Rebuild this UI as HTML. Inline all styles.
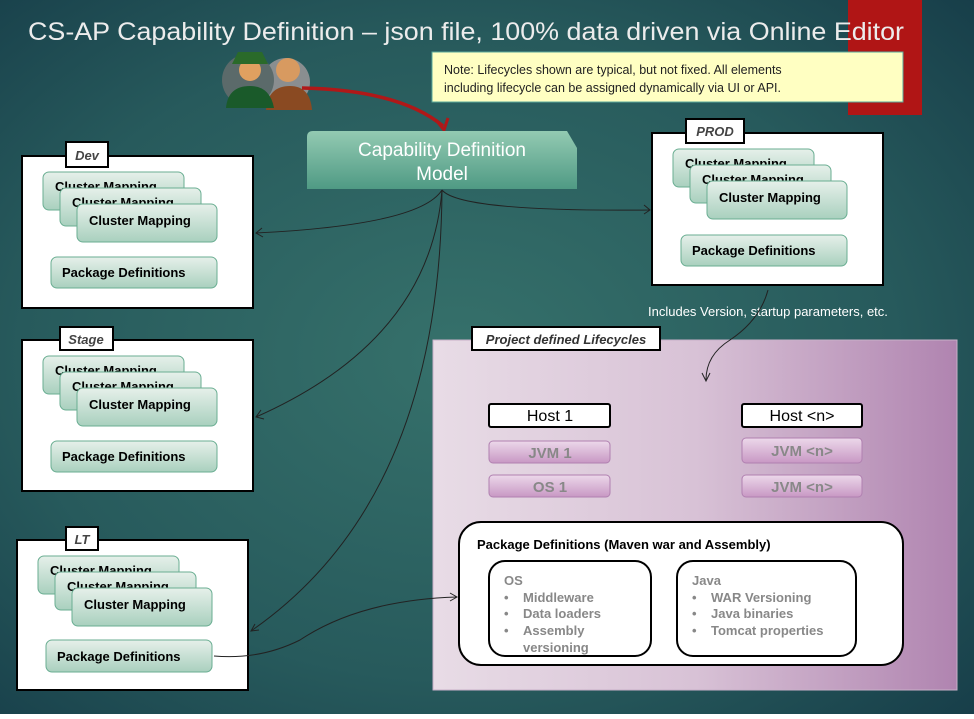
<!DOCTYPE html>
<html><head><meta charset="utf-8"><style>
html,body{margin:0;padding:0}
body{width:974px;height:714px;overflow:hidden;font-family:"Liberation Sans",sans-serif}
</style></head><body>
<svg width="974" height="714" viewBox="0 0 974 714" xmlns="http://www.w3.org/2000/svg" font-family="Liberation Sans, sans-serif">
<defs>
<radialGradient id="bg" cx="0.47" cy="0.5" r="0.75">
<stop offset="0" stop-color="#36716b"/><stop offset="0.6" stop-color="#275a5c"/><stop offset="1" stop-color="#163c48"/>
</radialGradient>
<linearGradient id="card" x1="0" y1="0" x2="0" y2="1"><stop offset="0" stop-color="#e6f0ea"/><stop offset="1" stop-color="#a9d0be"/></linearGradient>
<linearGradient id="model" x1="0" y1="0" x2="0" y2="1"><stop offset="0" stop-color="#93cab2"/><stop offset="1" stop-color="#4f9a84"/></linearGradient>
<linearGradient id="purp" x1="0" y1="0" x2="1" y2="0"><stop offset="0" stop-color="#e8dce6"/><stop offset="0.5" stop-color="#d8c2d6"/><stop offset="1" stop-color="#b084b0"/></linearGradient>
<linearGradient id="pbtn" x1="0" y1="0" x2="0" y2="1"><stop offset="0" stop-color="#ecd8ea"/><stop offset="1" stop-color="#c898c4"/></linearGradient>
<g id="stack">
<rect x="0" y="0" width="141" height="38" rx="6" fill="url(#card)" stroke="#6aae92"/>
<text x="12" y="19" font-size="13" font-weight="bold">Cluster Mapping</text>
<rect x="17" y="16" width="141" height="38" rx="6" fill="url(#card)" stroke="#6aae92"/>
<text x="29" y="35" font-size="13" font-weight="bold">Cluster Mapping</text>
<rect x="34" y="32" width="140" height="38" rx="6" fill="url(#card)" stroke="#6aae92"/>
<text x="46" y="53" font-size="13" font-weight="bold">Cluster Mapping</text>
</g>
</defs>
<rect width="974" height="714" fill="url(#bg)"/>
<rect x="848" y="0" width="74" height="115" fill="#b01515"/>
<text x="28" y="40" font-size="25" fill="#ececec" textLength="876" lengthAdjust="spacingAndGlyphs">CS-AP Capability Definition – json file, 100% data driven via Online Editor</text>
<rect x="432" y="52" width="471" height="50" fill="#ffffc2" stroke="#5aa89a"/>
<text x="444" y="74" font-size="12.5" fill="#222">Note: Lifecycles shown are typical, but not fixed. All elements</text>
<text x="444" y="92" font-size="12.5" fill="#222">including lifecycle can be assigned dynamically via UI or API.</text>
<!-- people icon -->
<circle cx="286" cy="82" r="24" fill="#8a8e90"/>
<circle cx="288" cy="70" r="12" fill="#d89a60"/>
<path d="M266 110 Q268 86 290 86 Q310 86 312 110 Z" fill="#8a4a22"/>
<circle cx="248" cy="80" r="26" fill="#5b6a6a"/>
<circle cx="250" cy="70" r="11" fill="#e0a060"/>
<path d="M232 64 L268 64 L262 52 L238 52 Z" fill="#2a6a2a"/>
<path d="M226 108 Q228 86 250 86 Q270 86 274 108 Z" fill="#1a5a2a"/>
<path d="M302 88 Q400 90 443 126" stroke="#b01818" stroke-width="3.5" fill="none"/>
<path d="M436 120 L444 130 L448 118" stroke="#b01818" stroke-width="3" fill="none"/>
<!-- model -->
<path d="M313 131 L567 131 L577 148 L577 189 L307 189 L307 137 Q307 131 313 131 Z" fill="url(#model)"/>
<text x="442" y="156" font-size="19" fill="#fff" text-anchor="middle">Capability Definition</text>
<text x="442" y="180" font-size="19" fill="#fff" text-anchor="middle">Model</text>
<!-- connectors -->
<g stroke="#222" stroke-width="1" fill="none">
<path d="M442 190 Q420 225 256 233"/><path d="M262 228 L256 233 L263 237"/>
<path d="M442 190 Q430 340 256 417"/><path d="M261 410 L256 417 L264 419"/>
<path d="M442 190 Q440 500 251 631"/><path d="M255 624 L251 631 L259 630"/>
<path d="M442 190 Q460 212 650 210"/><path d="M644 205 L650 210 L644 214"/>
</g>
<!-- Dev -->
<rect x="22" y="156" width="231" height="152" fill="#fff" stroke="#000" stroke-width="2"/>
<rect x="66" y="142" width="42" height="25" fill="#fff" stroke="#000" stroke-width="2"/>
<text x="87" y="160" font-size="13" font-weight="bold" font-style="italic" fill="#444" text-anchor="middle">Dev</text>
<use href="#stack" x="43" y="172"/>
<rect x="51" y="257" width="166" height="31" rx="6" fill="url(#card)" stroke="#6aae92"/>
<text x="62" y="277" font-size="13" font-weight="bold">Package Definitions</text>
<!-- Stage -->
<rect x="22" y="340" width="231" height="151" fill="#fff" stroke="#000" stroke-width="2"/>
<rect x="60" y="327" width="53" height="23" fill="#fff" stroke="#000" stroke-width="2"/>
<text x="86" y="344" font-size="13" font-weight="bold" font-style="italic" fill="#444" text-anchor="middle">Stage</text>
<use href="#stack" x="43" y="356"/>
<rect x="51" y="441" width="166" height="31" rx="6" fill="url(#card)" stroke="#6aae92"/>
<text x="62" y="461" font-size="13" font-weight="bold">Package Definitions</text>
<!-- LT -->
<rect x="17" y="540" width="231" height="150" fill="#fff" stroke="#000" stroke-width="2"/>
<rect x="66" y="527" width="32" height="23" fill="#fff" stroke="#000" stroke-width="2"/>
<text x="82" y="544" font-size="13" font-weight="bold" font-style="italic" fill="#444" text-anchor="middle">LT</text>
<use href="#stack" x="38" y="556"/>
<rect x="46" y="640" width="166" height="32" rx="6" fill="url(#card)" stroke="#6aae92"/>
<text x="57" y="661" font-size="13" font-weight="bold">Package Definitions</text>
<!-- PROD -->
<rect x="652" y="133" width="231" height="152" fill="#fff" stroke="#000" stroke-width="2"/>
<rect x="686" y="119" width="58" height="24" fill="#fff" stroke="#000" stroke-width="2"/>
<text x="715" y="136" font-size="13" font-weight="bold" font-style="italic" fill="#444" text-anchor="middle">PROD</text>
<use href="#stack" x="673" y="149"/>
<rect x="681" y="235" width="166" height="31" rx="6" fill="url(#card)" stroke="#6aae92"/>
<text x="692" y="255" font-size="13" font-weight="bold">Package Definitions</text>
<text x="648" y="316" font-size="13" fill="#fff">Includes Version, startup parameters, etc.</text>
<!-- purple -->
<rect x="433" y="340" width="524" height="350" fill="url(#purp)" stroke="#c8b0c8"/>
<rect x="472" y="327" width="188" height="23" fill="#fff" stroke="#000" stroke-width="2"/>
<text x="566" y="344" font-size="13" font-weight="bold" font-style="italic" fill="#333" text-anchor="middle">Project defined Lifecycles</text>
<rect x="489" y="404" width="121" height="23" rx="2" fill="#fff" stroke="#000" stroke-width="2"/>
<text x="550" y="421" font-size="16" text-anchor="middle">Host 1</text>
<rect x="742" y="404" width="120" height="23" rx="2" fill="#fff" stroke="#000" stroke-width="2"/>
<text x="802" y="421" font-size="16" text-anchor="middle">Host &lt;n&gt;</text>
<g font-size="15" font-weight="bold" fill="#888" text-anchor="middle">
<rect x="489" y="441" width="121" height="22" rx="4" fill="url(#pbtn)" stroke="#b080b0"/>
<text x="550" y="458">JVM 1</text>
<rect x="489" y="475" width="121" height="22" rx="4" fill="url(#pbtn)" stroke="#b080b0"/>
<text x="550" y="492">OS 1</text>
<rect x="742" y="438" width="120" height="25" rx="4" fill="url(#pbtn)" stroke="#b080b0"/>
<text x="802" y="456">JVM &lt;n&gt;</text>
<rect x="742" y="475" width="120" height="22" rx="4" fill="url(#pbtn)" stroke="#b080b0"/>
<text x="802" y="492">JVM &lt;n&gt;</text>
</g>
<rect x="459" y="522" width="444" height="143" rx="22" fill="#fff" stroke="#000" stroke-width="2"/>
<text x="477" y="549" font-size="13" font-weight="bold">Package Definitions (Maven war and Assembly)</text>
<rect x="489" y="561" width="162" height="95" rx="16" fill="#fff" stroke="#000" stroke-width="2"/>
<rect x="677" y="561" width="179" height="95" rx="16" fill="#fff" stroke="#000" stroke-width="2"/>
<g font-size="13" font-weight="bold" fill="#888">
<text x="504" y="585">OS</text>
<text x="504" y="602">•</text><text x="523" y="602">Middleware</text>
<text x="504" y="618">•</text><text x="523" y="618">Data loaders</text>
<text x="504" y="635">•</text><text x="523" y="635">Assembly</text>
<text x="523" y="652">versioning</text>
<text x="692" y="585">Java</text>
<text x="692" y="602">•</text><text x="711" y="602">WAR Versioning</text>
<text x="692" y="618">•</text><text x="711" y="618">Java binaries</text>
<text x="692" y="635">•</text><text x="711" y="635">Tomcat properties</text>
</g>
<g stroke="#222" stroke-width="1" fill="none">
<path d="M768 290 Q760 320 730 340 Q706 355 706 380"/><path d="M702 373 L706 381 L710 373"/>
<path d="M214 656 Q260 660 300 640 Q360 600 457 597"/><path d="M450 593 L457 597 L450 601"/>
</g>
</svg>
</body></html>
